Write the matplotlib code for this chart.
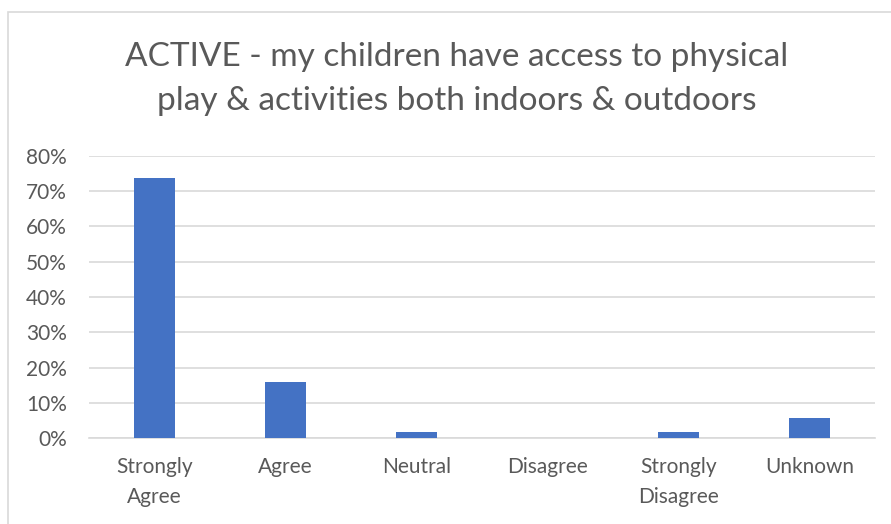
import matplotlib
matplotlib.use("Agg")
import matplotlib.pyplot as plt
from matplotlib.ticker import FuncFormatter
from matplotlib.patches import Rectangle

categories = ["Strongly\nAgree", "Agree", "Neutral", "Disagree", "Strongly\nDisagree", "Unknown"]
values = [73.7, 15.8, 1.8, 0.0, 1.8, 5.7]
yticks = [0, 10, 20, 30, 40, 50, 60, 70, 80]
title = "ACTIVE - my children have access to physical\nplay & activities both indoors & outdoors"

plt.rcParams['font.family'] = ['Lato', 'DejaVu Sans']
W, H = 891, 524
fig = plt.figure(figsize=(W/100, H/100), dpi=100)
fig.patch.set_facecolor('white')

# chart border
fig.add_artist(Rectangle((8/W, -0.05), 1.2, (H-12)/H + 0.05, transform=fig.transFigure,
                         fill=False, edgecolor='#d9d9d9', linewidth=1.2))

ax = fig.add_axes([89/W, 1-438/H, (875-89)/W, (438-156)/H])
x = list(range(len(categories)))
ax.bar(x, values, width=0.32, color='#4472c4', zorder=3)
ax.set_xlim(-0.5, len(categories)-0.5)
ax.set_ylim(0, 80)
ax.set_yticks(yticks)
ax.yaxis.set_major_formatter(FuncFormatter(lambda v, p: f"{int(v)}%"))
ax.set_xticks(x)
ax.set_xticklabels(categories, linespacing=1.6)
ax.grid(axis='y', color='#d9d9d9', linewidth=1.2, zorder=0)
for s in ['top', 'right', 'left']:
    ax.spines[s].set_visible(False)
ax.spines['bottom'].set_color('#d9d9d9')
ax.spines['bottom'].set_linewidth(1.2)
ax.tick_params(axis='both', length=0, labelsize=15, colors='#595959')
ax.tick_params(axis='x', pad=14)
ax.tick_params(axis='y', pad=16)

fig.text(457/W, 1-79/H, title, ha='center', va='center', fontsize=24,
         color='#595959', linespacing=1.6)

fig.savefig("out.png", dpi=100)
